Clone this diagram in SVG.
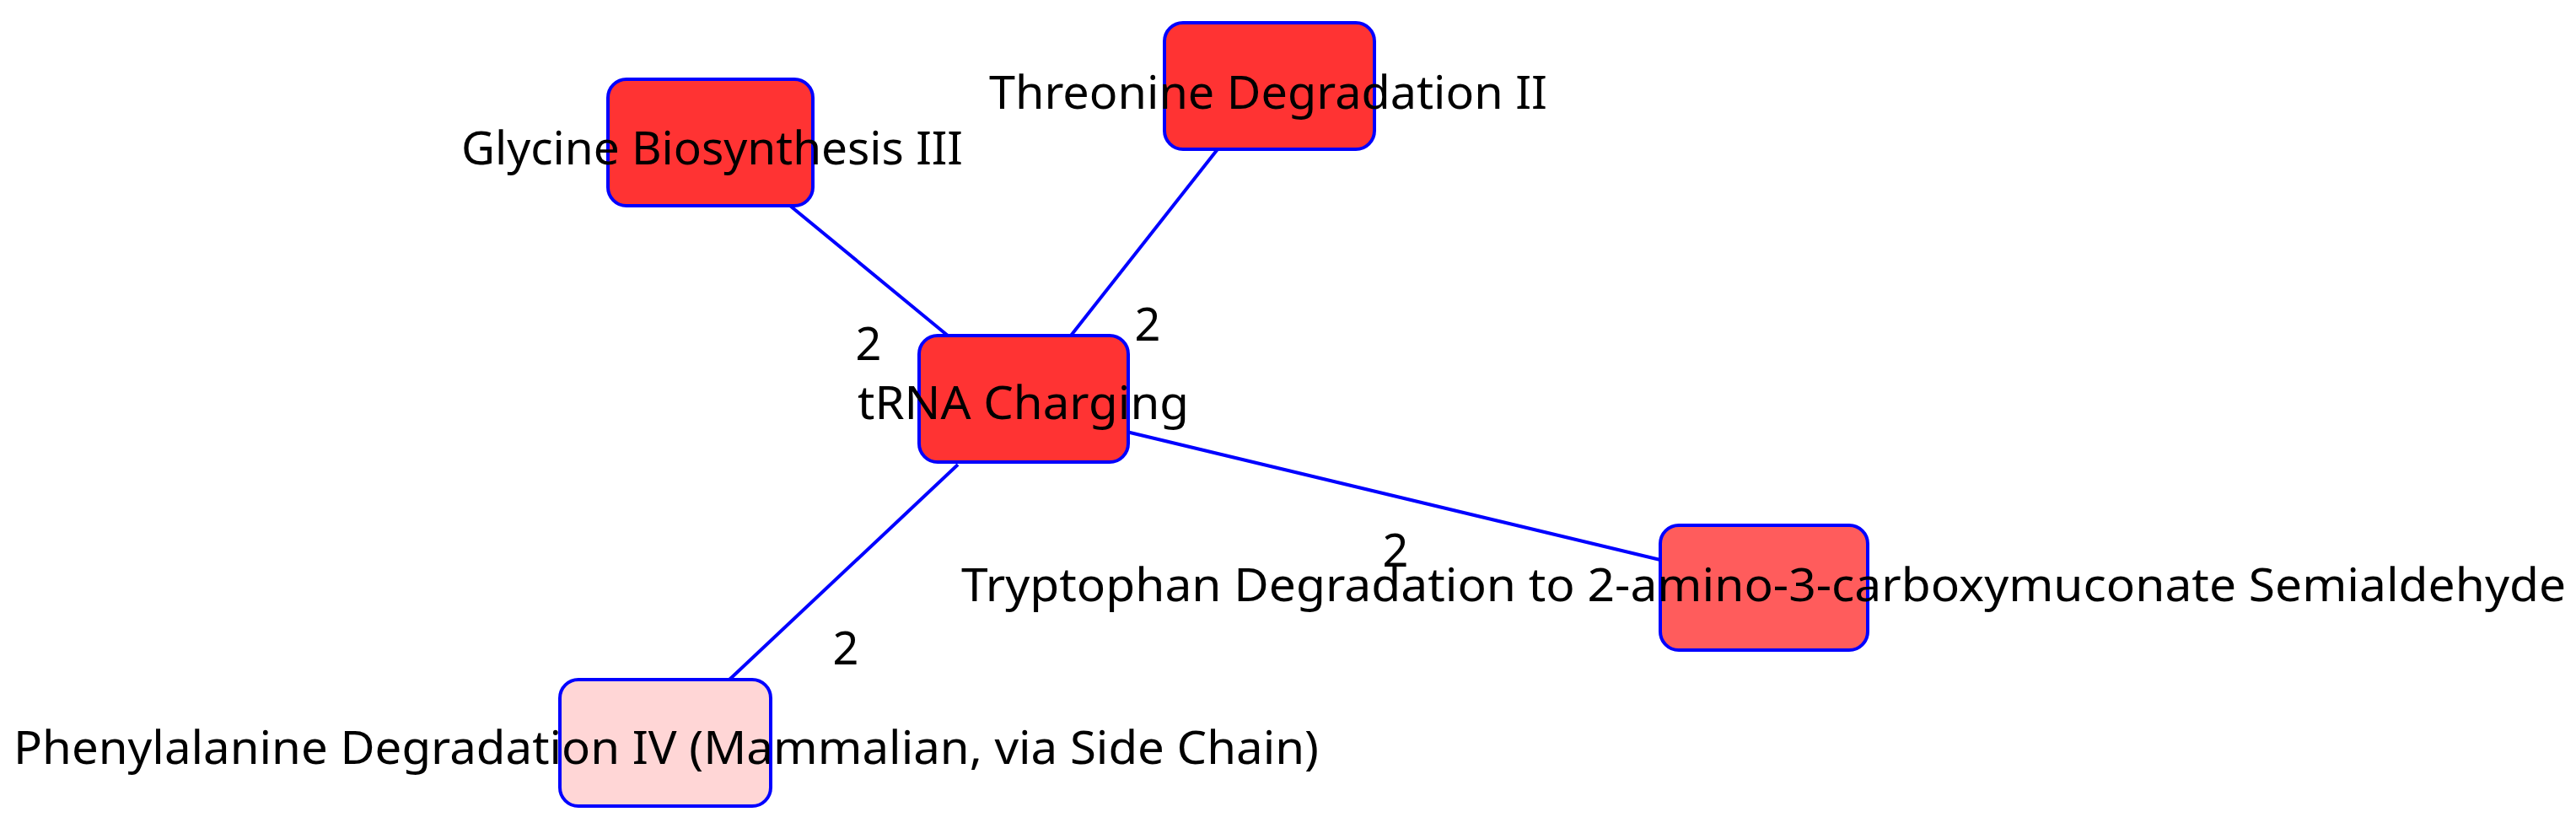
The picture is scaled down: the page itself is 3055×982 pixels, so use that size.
<svg xmlns="http://www.w3.org/2000/svg" width="3055" height="982" viewBox="0 0 3055 982">
<style>
.n{stroke:#0000FF;stroke-width:4;}
.e{stroke:#0000FF;stroke-width:4;fill:none;}
text{font-family:"Noto Sans","DejaVu Sans",sans-serif;font-size:54px;fill:#000;}
.l{text-anchor:middle;}
</style>
<rect width="3055" height="982" fill="#fff"/>
<g id="connectors">
<line class="e" x1="937" y1="244" x2="1124" y2="398"/>
<line class="e" x1="1444" y1="177" x2="1270" y2="398"/>
<line class="e" x1="1336" y1="512" x2="1969" y2="664"/>
<line class="e" x1="1136" y1="551" x2="865" y2="806"/>
<text class="l" x="1030" y="427">2</text>
<text class="l" x="1361" y="404">2</text>
<text class="l" x="1655" y="672">2</text>
<text class="l" x="1003" y="788">2</text>
</g>
<g id="glycine"><rect class="n" x="721" y="94" width="243" height="150" rx="22" fill="#FF3333"/><text x="547" y="195" textLength="595" lengthAdjust="spacingAndGlyphs">Glycine Biosynthesis III</text></g>
<g id="threonine"><rect class="n" x="1381" y="27" width="249" height="150" rx="22" fill="#FF3333"/><text x="1173" y="129" textLength="662" lengthAdjust="spacingAndGlyphs">Threonine Degradation II</text></g>
<g id="trna"><rect class="n" x="1090" y="398" width="248" height="150" rx="22" fill="#FF3333"/><text x="1017" y="497" textLength="393" lengthAdjust="spacingAndGlyphs">tRNA Charging</text></g>
<g id="tryptophan"><rect class="n" x="1969" y="623" width="246" height="148" rx="22" fill="#FF5C5C"/><text x="1140" y="713" textLength="1903" lengthAdjust="spacingAndGlyphs">Tryptophan Degradation to 2-amino-3-carboxymuconate Semialdehyde</text></g>
<g id="phenylalanine"><rect class="n" x="664" y="806" width="250" height="150" rx="22" fill="#FFD6D6"/><text x="16" y="906" textLength="1548" lengthAdjust="spacingAndGlyphs">Phenylalanine Degradation IV (Mammalian, via Side Chain)</text></g>
</svg>
